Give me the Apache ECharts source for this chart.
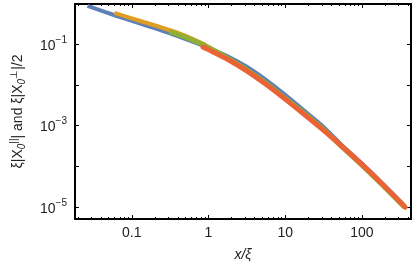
<!DOCTYPE html>
<html><head><meta charset="utf-8">
<script src="https://cdn.jsdelivr.net/npm/echarts@6/dist/echarts.min.js"></script>
<style>html,body{margin:0;padding:0;background:#fff}#c{width:415px;height:267px}</style>
</head><body><div id="c"></div>
<script>
const blueX = [0.0265, 0.0612, 0.1297, 0.3086, 0.5498, 0.980, 1.746, 3.11, 5.54, 9.89, 17.6, 31.4, 56.0, 99.8, 178, 317, 356];
const blueY = [0.858, 0.501, 0.319, 0.1863, 0.1254, 0.0820, 0.0507, 0.0280, 0.01342, 0.00574, 0.002323, 9.40e-4, 3.154e-4, 1.165e-4, 4.07e-5, 1.373e-5, 1.095e-5];
const orangeX = [0.0594, 0.1297, 0.3086, 0.5498, 0.925];
const orangeY = [0.578, 0.367, 0.2208, 0.1486, 0.0945];
const greenX = [0.3086, 0.5498, 0.980, 1.746, 3.11, 5.54, 9.89, 17.6, 31.4, 56.0, 99.8, 178, 317, 356];
const greenY = [0.2028, 0.1369, 0.0844, 0.0453, 0.0235, 0.01102, 0.00471, 0.001995, 8.155e-4, 2.88e-4, 1.064e-4, 3.72e-5, 1.254e-5, 1.0e-5];
const redX = [0.848, 0.980, 1.746, 3.11, 5.54, 9.89, 17.6, 31.4, 56.0, 99.8, 178, 317, 366];
const redY = [0.0844, 0.0741, 0.0428, 0.0222, 0.0104, 0.0045, 0.001885, 7.71e-4, 3.01e-4, 1.113e-4, 3.89e-5, 1.31e-5, 9.9e-6];
const xTickLabels = [0.1, 1, 10, 100];
const yTickLabels = [1e-1, 1e-3, 1e-5];
const xMinorTicks = [0.02,0.03,0.04,0.05,0.06,0.07,0.08,0.09,0.2,0.3,0.4,0.5,0.6,0.7,0.8,0.9,2,3,4,5,6,7,8,9,20,30,40,50,60,70,80,90,200,300,400];

const XMIN = 0.0182, XMAX = 436, YMIN = 5.08e-6, YMAX = 0.959;
const pair = (xs, ys) => xs.map((x, i) => [x, ys[i]]);
const font = "'Liberation Sans', Arial, sans-serif";
const txt = '#222';
function near(v, list) { return list.some(t => Math.abs(Math.log10(v) - Math.log10(t)) < 1e-6); }

const baseX = {
  type: 'log', logBase: 10, min: XMIN, max: XMAX, gridIndex: 0,
  splitLine: { show: false },
  axisLine: { show: true, onZero: false, lineStyle: { color: '#000', width: 2 } },
  axisTick: { show: true, inside: true, length: 4, lineStyle: { color: '#000', width: 1 } },
};
const baseY = {
  type: 'log', logBase: 10, min: YMIN, max: YMAX, gridIndex: 0,
  splitLine: { show: false },
  axisLine: { show: true, onZero: false, lineStyle: { color: '#000', width: 2 } },
  axisTick: { show: true, inside: true, length: 4, lineStyle: { color: '#000', width: 1 } },
};
const chart = echarts.init(document.getElementById('c'));
chart.setOption({
  animation: false,
  backgroundColor: '#fff',
  grid: { left: 62, right: 4, top: 4, bottom: 48 },
  xAxis: [
    Object.assign({}, baseX, {
      position: 'bottom',
      name: 'x/ξ', nameLocation: 'middle', nameGap: 29,
      nameTextStyle: { fontFamily: font, fontSize: 14, fontStyle: 'italic', color: txt },
      axisLabel: {
        show: true, margin: 7, fontFamily: font, fontSize: 14, color: txt,
        showMinLabel: false, showMaxLabel: false,
        formatter: v => near(v, xTickLabels) ? String(xTickLabels.find(t => near(v, [t]))) : ''
      }
    }),
    Object.assign({}, baseX, { position: 'top', axisLabel: { show: false } }),
    Object.assign({}, baseX, { position: 'bottom', axisLine: { show: false }, axisLabel: { show: false },
      axisTick: { show: true, inside: true, length: 2, customValues: xMinorTicks, lineStyle: { color: '#000', width: 1 } } }),
    Object.assign({}, baseX, { position: 'top', axisLine: { show: false }, axisLabel: { show: false },
      axisTick: { show: true, inside: true, length: 2, customValues: xMinorTicks, lineStyle: { color: '#000', width: 1 } } })
  ],
  yAxis: [
    Object.assign({}, baseY, {
      position: 'left',
      name: '{t|ξ|X}{sub|0}{sup|||}{t|| and ξ|X}{sub|0}{sup|⊥}{t||/2}',
      nameLocation: 'middle', nameGap: 47,
      nameTextStyle: {
        fontFamily: font, fontSize: 14, color: txt,
        rich: {
          t: { fontFamily: font, fontSize: 14, color: txt, lineHeight: 20, verticalAlign: 'middle' },
          sub: { fontFamily: font, fontSize: 10, fontStyle: 'italic', color: txt, lineHeight: 20, verticalAlign: 'bottom', padding: [0,0,1,0] },
          sup: { fontFamily: font, fontSize: 10, color: txt, lineHeight: 20, verticalAlign: 'top', padding: [1,0,0,0] }
        }
      },
      axisLabel: {
        show: true, margin: 8, fontFamily: font, color: txt,
        showMinLabel: false, showMaxLabel: false,
        formatter: v => {
          if (!near(v, yTickLabels)) return '';
          const e = Math.round(Math.log10(v));
          return '{b|10}{s|' + (e < 0 ? '−' + (-e) : e) + '}';
        },
        rich: {
          b: { fontFamily: font, fontSize: 14, color: txt, lineHeight: 18, verticalAlign: 'bottom' },
          s: { fontFamily: font, fontSize: 10, color: txt, lineHeight: 18, verticalAlign: 'top' }
        }
      }
    }),
    Object.assign({}, baseY, { position: 'right', axisLabel: { show: false } })
  ],
  series: [
    { type: 'line', data: pair(blueX, blueY), smooth: 0.25, showSymbol: false, lineStyle: { color: '#5E81B5', width: 4 }, z: 2 },
    { type: 'line', data: pair(orangeX, orangeY), smooth: 0.25, showSymbol: false, lineStyle: { color: '#E19C24', width: 4 }, z: 3 },
    { type: 'line', data: pair(greenX, greenY), smooth: 0.25, showSymbol: false, lineStyle: { color: '#8FB032', width: 5 }, z: 4 },
    { type: 'line', data: pair(redX, redY), smooth: 0.25, showSymbol: false, lineStyle: { color: '#EB6235', width: 5, cap: 'round' }, z: 5 }
  ]
});
</script></body></html>
